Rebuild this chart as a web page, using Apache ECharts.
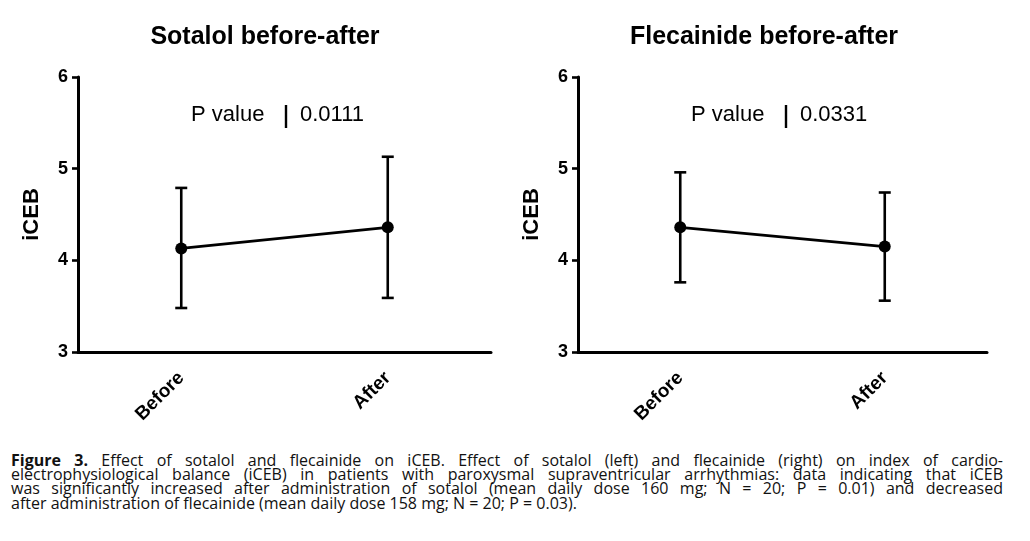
<!DOCTYPE html>
<html>
<head>
<meta charset="UTF-8">
<title>iCEB before-after</title>
<script src="https://cdn.jsdelivr.net/npm/echarts@6/dist/echarts.min.js"></script>
<style type="text/css">
    body { margin: 0; background: #fff; }
    #chart { position: absolute; left: 0; top: 0; width: 1030px; height: 445px; }
    #caption {
        position: absolute; left: 11px; top: 453px; width: 992px;
        font-family: "Open Sans", sans-serif; font-size: 16px; line-height: 14.2px; color: #111;
    }
    #caption div { text-align: justify; text-align-last: justify; white-space: nowrap; }
    #caption div.last { text-align-last: left; }
    #caption b { font-weight: 700; }
</style>
</head>
<body>
<div id="chart"></div>
<div id="caption">
    <div><b>Figure 3.</b> Effect of sotalol and flecainide on iCEB. Effect of sotalol (left) and flecainide (right) on index of cardio-</div>
    <div>electrophysiological balance (iCEB) in patients with paroxysmal supraventricular arrhythmias: data indicating that iCEB</div>
    <div>was significantly increased after administration of sotalol (mean daily dose 160 mg; N = 20; P = 0.01) and decreased</div>
    <div class="last">after administration of flecainide (mean daily dose 158 mg; N = 20; P = 0.03).</div>
</div>

<script type="text/javascript">
    var categories = ['Before', 'After'];
    var titles = ['Sotalol before-after', 'Flecainide before-after'];
    var pValues = ['0.0111', '0.0331'];
    // mean, lower and upper end of the error bar
    var sotalolMean = [4.13, 4.36];
    var sotalolLow = [3.48, 3.59];
    var sotalolHigh = [4.79, 5.13];
    var flecainideMean = [4.36, 4.15];
    var flecainideLow = [3.76, 3.56];
    var flecainideHigh = [4.96, 4.74];
    var yTicks = [3, 4, 5, 6];

    var font = '"Liberation Sans", Arial, sans-serif';
    var panels = [
        { mean: sotalolMean, low: sotalolLow, high: sotalolHigh, left: 78, right: 539, title: 260, p: 191 },
        { mean: flecainideMean, low: flecainideLow, high: flecainideHigh, left: 578, right: 43, title: 759, p: 691 }
    ];

    var myChart = echarts.init(document.getElementById('chart'));
    var option = {
        animation: false,
        title: [],
        grid: [],
        xAxis: [],
        yAxis: [],
        series: [],
        graphic: []
    };

    function errorBar(params, api) {
        var top = api.coord([api.value(0), api.value(2)]);
        var bottom = api.coord([api.value(0), api.value(1)]);
        var w = 6;
        var st = { stroke: '#000', lineWidth: 2.6 };
        return {
            type: 'group',
            children: [
                { type: 'line', shape: { x1: top[0], y1: top[1], x2: bottom[0], y2: bottom[1] }, style: st },
                { type: 'line', shape: { x1: top[0] - w, y1: top[1], x2: top[0] + w, y2: top[1] }, style: st },
                { type: 'line', shape: { x1: bottom[0] - w, y1: bottom[1], x2: bottom[0] + w, y2: bottom[1] }, style: st }
            ]
        };
    }

    panels.forEach(function (p, idx) {
        option.title.push({
            text: titles[idx],
            left: p.title,
            top: 20,
            textAlign: 'center',
            textStyle: { fontFamily: font, fontSize: 25, fontWeight: 'bold', color: '#000' }
        });
        option.grid.push({ left: p.left, right: p.right, top: 77, height: 275 });
        option.xAxis.push({
            type: 'category',
            gridIndex: idx,
            data: categories,
            axisLine: { lineStyle: { color: '#000', width: 3 } },
            axisTick: { alignWithLabel: true, length: 8, lineStyle: { color: '#000', width: 2.6 } },
            axisLabel: {
                rotate: 45, margin: 23, color: '#000',
                fontFamily: font, fontSize: 19, fontWeight: 'bold'
            },
            splitLine: { show: false }
        });
        option.yAxis.push({
            type: 'value',
            gridIndex: idx,
            min: yTicks[0],
            max: yTicks[yTicks.length - 1],
            interval: 1,
            name: 'iCEB',
            nameLocation: 'middle',
            nameGap: 35,
            nameTextStyle: { fontFamily: font, fontSize: 22, fontWeight: 'bold', color: '#000' },
            axisLine: { show: true, lineStyle: { color: '#000', width: 3 } },
            axisTick: { show: true, length: 6, lineStyle: { color: '#000', width: 2.6 } },
            axisLabel: { margin: 10, color: '#000', fontFamily: font, fontSize: 18, fontWeight: 'bold' },
            splitLine: { show: false }
        });
        option.series.push({
            type: 'custom',
            xAxisIndex: idx,
            yAxisIndex: idx,
            renderItem: errorBar,
            encode: { x: 0, y: [1, 2] },
            data: categories.map(function (c, i) { return [i, p.low[i], p.high[i]]; }),
            z: 2
        });
        option.series.push({
            type: 'line',
            xAxisIndex: idx,
            yAxisIndex: idx,
            data: p.mean,
            symbol: 'circle',
            symbolSize: 12,
            itemStyle: { color: '#000' },
            lineStyle: { color: '#000', width: 2.6 },
            z: 3
        });
        // P value annotation
        var ts = { fontFamily: font, fontSize: 22, fill: '#000' };
        option.graphic.push(
            { type: 'text', left: p.p, top: 104, style: Object.assign({ text: 'P value' }, ts) },
            { type: 'line', shape: { x1: p.p + 95, y1: 105, x2: p.p + 95, y2: 128 }, style: { stroke: '#000', lineWidth: 2.4 } },
            { type: 'text', left: p.p + 109, top: 104, style: Object.assign({ text: pValues[idx] }, ts) }
        );
    });

    myChart.setOption(option);
</script>
</body>
</html>
